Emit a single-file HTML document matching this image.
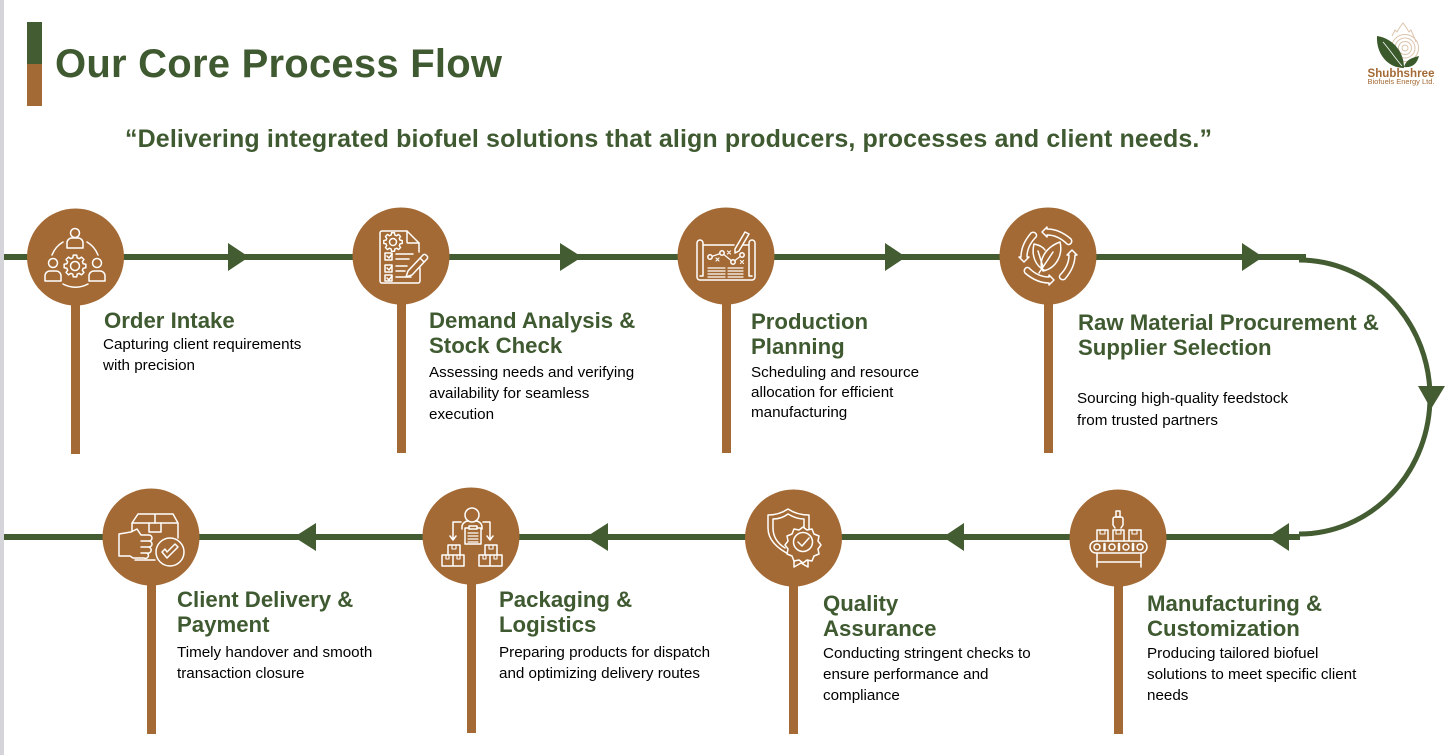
<!DOCTYPE html>
<html>
<head>
<meta charset="utf-8">
<style>
html,body{margin:0;padding:0;background:#fff;width:1456px;height:755px;overflow:hidden}
svg{display:block}
text{font-family:"Liberation Sans",Arial,sans-serif}
.h{font-weight:700;font-size:22.2px;fill:#3f5a30}
.b{font-size:15.2px;fill:#000}
.i{fill:none;stroke:#fff;stroke-width:1.5;stroke-linejoin:round;stroke-linecap:round}
</style>
</head>
<body>
<svg width="1456" height="755" viewBox="0 0 1456 755" xmlns="http://www.w3.org/2000/svg">
<defs>
<polygon id="gear" points="8.21,-2.2 10.86,-1.72 10.86,1.72 8.21,2.2 7.36,4.25 8.9,6.47 6.47,8.9 4.25,7.36 2.2,8.21 1.72,10.86 -1.72,10.86 -2.2,8.21 -4.25,7.36 -6.47,8.9 -8.9,6.47 -7.36,4.25 -8.21,2.2 -10.86,1.72 -10.86,-1.72 -8.21,-2.2 -7.36,-4.25 -8.9,-6.47 -6.47,-8.9 -4.25,-7.36 -2.2,-8.21 -1.72,-10.86 1.72,-10.86 2.2,-8.21 4.25,-7.36 6.47,-8.9 8.9,-6.47 7.36,-4.25"/>
<path id="cyc" d="M-6,-24 L-1,-29 L-1,-27 C8,-27 16,-23 23,-17 C25,-14 22,-10 19,-12 C14,-17 7,-21 -1,-21 L-1,-19 Z"/>
</defs>
<rect width="1456" height="755" fill="#fff"/>
<rect x="0" y="0" width="4" height="755" fill="#d4d4da"/>
<rect x="27" y="22" width="15" height="42" fill="#435c31"/>
<rect x="27" y="64" width="15" height="42" fill="#a46a35"/>
<text x="55" y="77" font-size="40" font-weight="700" fill="#3f5a30" textLength="447">Our Core Process Flow</text>
<text x="125" y="147" font-size="25" font-weight="700" fill="#3f5a30" textLength="1087">“Delivering integrated biofuel solutions that align producers, processes and client needs.”</text>

<!-- logo -->
<g>
<g fill="none" stroke="#dcc4ac" stroke-width="1">
<path d="M1392,36 l3,-6 2,2 3,-5 3,-4 3,4 3,5 2,-2 3,7 2,5"/>
<circle cx="1405" cy="48" r="13.500"/><circle cx="1405" cy="48" r="10"/><circle cx="1405" cy="48" r="6.500"/><circle cx="1405" cy="48" r="3"/>
</g>
<path d="M1377,36 C1392,38 1404,51 1404,68 C1388,68 1376,54 1377,36Z" fill="#3b5a2c"/>
<path d="M1383,42 C1390,50 1395,58 1402,66" stroke="#fff" stroke-width=".8" fill="none"/>
<path d="M1404,67 C1406,60 1411,58 1419,56 C1417,64 1412,68 1404,67Z" fill="#3b5a2c"/>
<text x="1367.500" y="77" font-size="11.500" font-weight="700" fill="#a46a35" textLength="67">Shubhshree</text>
<text x="1367.500" y="84" font-size="7.500" fill="#a46a35" textLength="67">Biofuels Energy Ltd.</text>
</g>

<!-- connectors -->
<g fill="#435c31">
<rect x="4" y="254" width="1302" height="6"/>
<rect x="4" y="534" width="1296" height="6"/>
<path d="M228,243 L249,257 L228,271Z"/>
<path d="M560,243 L582,257 L560,271Z"/>
<path d="M885,243 L906,257 L885,271Z"/>
<path d="M1242,243 L1263,257 L1242,271Z"/>
<path d="M316,523 L294,537 L316,551Z"/>
<path d="M608,523 L586,537 L608,551Z"/>
<path d="M964,523 L943,537 L964,551Z"/>
<path d="M1289,523 L1268,537 L1289,551Z"/>
<path d="M1418,386 L1445,386 L1431,409Z"/>
</g>
<path d="M1299,260 A131,137 0 0 1 1299,534" fill="none" stroke="#435c31" stroke-width="5"/>

<!-- stems -->
<g fill="#a46a35">
<rect x="71" y="295" width="9" height="159"/>
<rect x="397" y="295" width="9" height="158"/>
<rect x="722" y="295" width="9" height="158"/>
<rect x="1044" y="295" width="9" height="158"/>
<rect x="147" y="575" width="9" height="159"/>
<rect x="467" y="575" width="9" height="158"/>
<rect x="789" y="575" width="9" height="159"/>
<rect x="1114" y="575" width="9" height="159"/>
<circle cx="75.500" cy="257" r="48.500"/>
<circle cx="401" cy="256" r="48.500"/>
<circle cx="726" cy="256" r="48.500"/>
<circle cx="1048" cy="256" r="48.500"/>
<circle cx="151" cy="537" r="48.500"/>
<circle cx="471" cy="536" r="48.500"/>
<circle cx="793.500" cy="538" r="48.500"/>
<circle cx="1118" cy="538" r="48.500"/>
</g>

<!-- icon 1 -->
<g class="i" transform="translate(75,257)">
<circle cx="0" cy="-24" r="4.500"/>
<path d="M-8,-9 v-5 a5,5 0 0 1 5,-5 h6 a5,5 0 0 1 5,5 v5z"/>
<circle cx="-22" cy="6" r="4.500"/><path d="M-30,24 v-5 a5,5 0 0 1 5,-5 h6 a5,5 0 0 1 5,5 v5z"/>
<circle cx="22" cy="6" r="4.500"/><path d="M14,24 v-5 a5,5 0 0 1 5,-5 h6 a5,5 0 0 1 5,5 v5z"/>
<use href="#gear" x="0" y="9"/>
<circle cx="0" cy="9" r="4.500"/>
<path d="M-23,-2 A26,26 0 0 1 -12,-15"/><path d="M23,-2 A26,26 0 0 0 12,-15"/><path d="M-12,27 A26,26 0 0 0 13,27"/>
</g>

<!-- icon 2 -->
<g class="i" transform="translate(401,256)">
<path d="M18,-4 V-13 L6,-25 H-19 a2,2 0 0 0 -2,2 V25 a2,2 0 0 0 2,2 H17 a2,2 0 0 0 2,-2 V12"/>
<path d="M6,-25 V-14 a1,1 0 0 0 1,1 H18"/>
<g transform="translate(-8,-14) scale(.85)"><use href="#gear" stroke-width="1.700"/></g>
<circle cx="-8" cy="-14" r="3.500"/>
<rect x="-16" y="-3" width="7" height="7"/><rect x="-16" y="9" width="7" height="7"/><rect x="-16" y="19" width="7" height="6"/>
<path d="M-14,0 l2,2 3,-4 M-14,12 l2,2 3,-4 M-14,22 l2,2 3,-4"/>
<path d="M-5,-2 H12 M-5,3 H8 M-5,10 H6 M-5,15 H4 M-5,21 H10"/>
<path d="M7,15 L22,-1 a2,2 0 0 1 3,0 l1,1 a2,2 0 0 1 0,3 L11,19 L5,21Z M19,2 l4,4" fill="#a46a35"/>
</g>

<!-- icon 3 -->
<g class="i" transform="translate(726,256)">
<path d="M-23,-11 V-13 a3,3 0 0 0 -6,0 V21 a3,3 0 0 0 3,3 H26 a3,3 0 0 0 3,-3 V-13 a3,3 0 0 0 -6,0 V-11 H16 M-23,-11 H8 M23,-11 V20 M-23,-11 V20 M-26,20 H-23 M23,20 H26"/>
<path d="M-16,1 L-4,-3 L7,6 L16,-1" stroke-width="1.200"/>
<circle cx="-16" cy="1" r="2.200" fill="#a46a35"/><circle cx="-4" cy="-3" r="2.200" fill="#a46a35"/><circle cx="7" cy="6" r="2.200" fill="#a46a35"/><circle cx="16" cy="-1" r="2.200" fill="#a46a35"/>
<path d="M-10,2 l3,3 m0,-3 l-3,3 M1.500,-5 l3,3 m0,-3 l-3,3 M14.500,4.500 l3,3 m0,-3 l-3,3" stroke-width="1.100"/>
<path d="M9,-7 L19,-24 L23,-22 L13,-5 L9,-3Z" fill="#a46a35"/>
<path d="M-18,12 H-1 M-18,15 H-1 M-18,18 H-1 M-18,21 H-1 M2,12 H17 M2,15 H17 M2,18 H17 M2,21 H17" stroke-width="1.200"/>
</g>

<!-- icon 4 -->
<g class="i" transform="translate(1048,256)">
<use href="#cyc"/>
<use href="#cyc" transform="rotate(90)"/>
<use href="#cyc" transform="rotate(180)"/>
<use href="#cyc" transform="rotate(270)"/>
<path d="M-4,14 C-12,10 -17,0 -14,-12 C-9,-11 -5,-9 -3,-6"/>
<path d="M-5,15 C-10,6 -4,-8 12,-14 C15,-2 9,12 -5,15 Z"/>
<path d="M-9,17 L5,-4 M-5,11 L-10,-5"/>
</g>

<!-- icon 5 -->
<g class="i" transform="translate(151,537)">
<path d="M-19,-14 L-13,-23 H22 L27,-14 H-19 M-19,-14 V-4 M27,-14 V1"/>
<path d="M4,-23 V-14 M-2,-14 V-5 H10 V-14"/>
<path d="M-16,23 H4"/>
<path d="M-32,-3 L-20,-5 L-14,-8 L-12,-5 L-10,-2 H-2 a3,3 0 0 1 0,6 a3,3 0 0 1 0,6 a3,3 0 0 1 -2,6 a2.500,2.500 0 0 1 -3,5 H-18 L-21,19 H-32Z" fill="#a46a35"/>
<path d="M-10,4 H-2 M-10,10 H-2 M-10,16 H-4"/>
<circle cx="19" cy="15" r="14" fill="#a46a35"/>
<path d="M11,15 l5,6 l11,-11 l-3,-3 l-8,8 l-2,-3Z"/>
</g>

<!-- icon 6 -->
<g class="i" transform="translate(471,536)">
<circle cx="1" cy="-21" r="7"/>
<path d="M-9,-7 V-9 C-9,-13 -5,-15 -3,-15 M11,-7 V-9 C11,-13 7,-15 5,-15"/>
<rect x="-6" y="-8" width="16" height="16" fill="#a46a35"/>
<rect x="-2" y="-10" width="8" height="3" fill="#a46a35"/>
<path d="M-3,-3 H7 M-3,0 H7 M-3,3 H7 M-3,6 H7" stroke-width="1.200"/>
<path d="M-10,-14 H-18 V3 M-21,0 L-18,4 L-15,0 M12,-14 H19 V3 M16,0 L19,4 L22,0"/>
<path d="M-23,9 H-11 V19 H-23Z M-29,19 H-18 V30 H-29Z M-18,19 H-7 V30 H-18Z"/>
<path d="M14,9 H26 V19 H14Z M8,19 H19 V30 H8Z M19,19 H31 V30 H19Z"/>
<path d="M-19,9 v4 h4 v-4 M-25,19 v4 h3 v-4 M-14,19 v4 h3 v-4 M18,9 v4 h4 v-4 M12,19 v4 h3 v-4 M23,19 v4 h3 v-4" stroke-width="1.100"/>
</g>

<!-- icon 7 -->
<g class="i" transform="translate(793,538)">
<path d="M-3,17 C-16,10 -25,2 -25,-10 V-23 C-17,-23 -11,-25 -5,-29 C1,-25 8,-23 16,-23 V-8"/>
<path d="M-8,10 C-16,5 -20,-2 -20,-10 V-19 C-14,-19 -9,-21 -5,-24 C0,-21 5,-19 11,-19 V-10"/>
<path d="M1,18 V29 L8,25 L15,29 V18"/>
<path d="M10,-11 l4,3 5,-1 2,5 5,2 -1,5 3,4 -3,4 1,5 -5,2 -2,5 -5,-1 -4,3 -4,-3 -5,1 -2,-5 -5,-2 1,-5 -3,-4 3,-4 -1,-5 5,-2 2,-5 5,1Z" fill="#a46a35"/>
<circle cx="10" cy="4" r="9.500"/>
<path d="M5,4 l4,4 7,-8"/>
</g>

<!-- icon 8 -->
<g class="i" transform="translate(1118,538)">
<rect x="-28" y="3" width="57" height="12" rx="6"/>
<circle cx="-21" cy="9" r="3"/><circle cx="-6" cy="9" r="3"/><circle cx="8" cy="9" r="3"/><circle cx="22" cy="9" r="3"/>
<path d="M-13.500,6 V12 M1,6 V12 M15,6 V12" stroke-width="2.500"/>
<path d="M-21,3 V-8 H-10 V3 M-5,3 V-8 H6 V3 M11,3 V-8 H23 V3"/>
<path d="M-18,-8 V-4 H-13 V-8 M-2,-8 V-4 H3 V-8 M14,-8 V-4 H19 V-8" stroke-width="1.100"/>
<path d="M-21,15 V29 M23,15 V29 M-21,24 H23"/>
<rect x="-2" y="-27" width="4" height="6"/>
<path d="M-5,-13 V-19 a2,2 0 0 1 2,-2 H3 a2,2 0 0 1 2,2 V-13 M-5,-13 l2,3 M5,-13 l-2,3"/>
</g>

<!-- labels row 1 -->
<text class="h" x="104" y="328">Order Intake</text>
<text class="b" x="103" y="349">Capturing client requirements</text>
<text class="b" x="103" y="370">with precision</text>

<text class="h" x="429" y="328">Demand Analysis &amp;</text>
<text class="h" x="429" y="353">Stock Check</text>
<text class="b" x="429" y="377">Assessing needs and verifying</text>
<text class="b" x="429" y="398">availability for seamless</text>
<text class="b" x="429" y="419">execution</text>

<text class="h" x="751" y="329">Production</text>
<text class="h" x="751" y="354">Planning</text>
<text class="b" x="751" y="377">Scheduling and resource</text>
<text class="b" x="751" y="397">allocation for efficient</text>
<text class="b" x="751" y="417">manufacturing</text>

<text class="h" x="1078" y="330">Raw Material Procurement &amp;</text>
<text class="h" x="1078" y="355">Supplier Selection</text>
<text class="b" x="1077" y="403">Sourcing high-quality feedstock</text>
<text class="b" x="1077" y="425">from trusted partners</text>

<!-- labels row 2 -->
<text class="h" x="177" y="607">Client Delivery &amp;</text>
<text class="h" x="177" y="632">Payment</text>
<text class="b" x="177" y="657">Timely handover and smooth</text>
<text class="b" x="177" y="678">transaction closure</text>

<text class="h" x="499" y="607">Packaging &amp;</text>
<text class="h" x="499" y="632">Logistics</text>
<text class="b" x="499" y="657">Preparing products for dispatch</text>
<text class="b" x="499" y="678">and optimizing delivery routes</text>

<text class="h" x="823" y="611">Quality</text>
<text class="h" x="823" y="636">Assurance</text>
<text class="b" x="823" y="658">Conducting stringent checks to</text>
<text class="b" x="823" y="679">ensure performance and</text>
<text class="b" x="823" y="700">compliance</text>

<text class="h" x="1147" y="611">Manufacturing &amp;</text>
<text class="h" x="1147" y="636">Customization</text>
<text class="b" x="1147" y="658">Producing tailored biofuel</text>
<text class="b" x="1147" y="679">solutions to meet specific client</text>
<text class="b" x="1147" y="700">needs</text>
</svg>
</body>
</html>
